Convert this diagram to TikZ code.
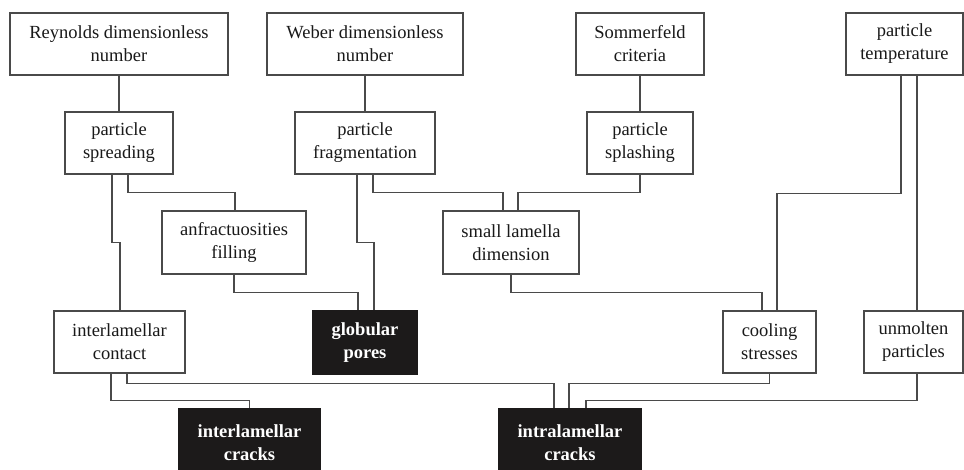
\documentclass[tikz,border=0pt]{standalone}
\usepackage{fontspec}
\setmainfont{Liberation Serif}
\definecolor{linegray}{HTML}{4A4A4A}
\definecolor{boxblack}{HTML}{1C1A1A}
\tikzset{
  box/.style={draw=linegray, line width=1.3pt, fill=white, inner sep=0pt, align=center,
    font=\fontsize{18.5}{23}\selectfont, text=black!90},
  darkbox/.style={box, fill=boxblack, draw=boxblack, text=white, font=\fontsize{18.5}{23}\selectfont\bfseries},
  conn/.style={draw=linegray, line width=1.3pt}
}
\begin{document}
\begin{tikzpicture}[x=1pt,y=-1pt]
\useasboundingbox (0,0) rectangle (964,470);
\clip (0,0) rectangle (964,470);
\fill[white] (0,0) rectangle (964,470);
% top row
\node[box, minimum width=218pt, minimum height=62pt] (rey) at (119,44) {Reynolds dimensionless\\number};
\node[box, minimum width=196pt, minimum height=62pt] (web) at (365,44) {Weber dimensionless\\number};
\node[box, minimum width=128pt, minimum height=62pt] (som) at (640,44) {Sommerfeld\\criteria};
\node[box, minimum width=117pt, minimum height=62pt] (temp) at (904.5,44) {particle\\temperature};
% second row
\node[box, minimum width=108pt, minimum height=62pt] (spr) at (119,143) {particle\\spreading};
\node[box, minimum width=140pt, minimum height=62pt] (frag) at (365,143) {particle\\fragmentation};
\node[box, minimum width=106pt, minimum height=62pt] (spl) at (640,143) {particle\\splashing};
% third row
\node[box, minimum width=144pt, minimum height=63pt] (anf) at (234,242.5) {anfractuosities\\filling};
\node[box, minimum width=136pt, minimum height=63pt] (sml) at (511,242.5) {small lamella\\dimension};
% fourth row
\node[box, minimum width=131pt, minimum height=62pt] (ic) at (119.5,342) {interlamellar\\contact};
\node[darkbox, minimum width=104pt, minimum height=63pt] (gp) at (365,342.5) {globular\\pores};
\node[box, minimum width=93pt, minimum height=62pt] (cs) at (769.5,342) {cooling\\stresses};
\node[box, minimum width=99pt, minimum height=62pt] (up) at (913.5,342) {unmolten\\particles};
% bottom row
\node[darkbox, minimum width=141pt, minimum height=68pt] (icr) at (249.5,443) {interlamellar\\cracks};
\node[darkbox, minimum width=142pt, minimum height=68pt] (intr) at (570,443) {intralamellar\\cracks};
% connectors
\draw[conn] (rey.south) -- (spr.north);
\draw[conn] (web.south) -- (frag.north);
\draw[conn] (som.south) -- (spl.north);
\draw[conn] ([xshift=-7pt]spr.south) -- ++(0,68) -| ([xshift=0.5pt]ic.north);
\draw[conn] ([xshift=9pt]spr.south) -- ++(0,18) -| ([xshift=1pt]anf.north);
\draw[conn] ([xshift=-8pt]frag.south) -- ++(0,68) -| ([xshift=9pt]gp.north);
\draw[conn] ([xshift=8pt]frag.south) -- ++(0,18) -| ([xshift=-8pt]sml.north);
\draw[conn] (spl.south) -- ++(0,18) -| ([xshift=7pt]sml.north);
\draw[conn] ([xshift=-3.5pt]temp.south) -- ++(0,118) -| ([xshift=7.5pt]cs.north);
\draw[conn] ([xshift=12.5pt]temp.south) -- ([xshift=3.5pt]up.north);
\draw[conn] (anf.south) -- ++(0,18) -| ([xshift=-7pt]gp.north);
\draw[conn] (sml.south) -- ++(0,18) -| ([xshift=-7.5pt]cs.north);
\draw[conn] ([xshift=-8.5pt]ic.south) -- ++(0,27) -| (icr.north);
\draw[conn] ([xshift=7.5pt]ic.south) -- ++(0,10) -| ([xshift=-16pt]intr.north);
\draw[conn] (cs.south) -- ++(0,10) -| ([xshift=-1pt]intr.north);
\draw[conn] ([xshift=3.5pt]up.south) -- ++(0,27) -| ([xshift=16pt]intr.north);
\end{tikzpicture}
\end{document}
